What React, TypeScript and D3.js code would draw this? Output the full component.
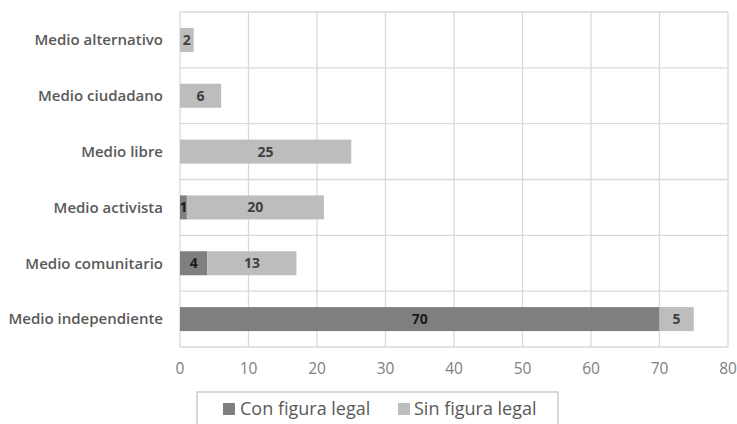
import React from "react";
import * as d3 from "d3";

const categories = ["Medio alternativo", "Medio ciudadano", "Medio libre", "Medio activista", "Medio comunitario", "Medio independiente"];
const conFigura = [0, 0, 0, 1, 4, 70];
const sinFigura = [2, 6, 25, 20, 13, 5];
const seriesNames = ["Con figura legal", "Sin figura legal"];
const xTicks = [0, 10, 20, 30, 40, 50, 60, 70, 80];

const W = 737, H = 424;
const left = 180, right = 728, top = 12, bottom = 347;
const dark = "#7f7f7f", light = "#bdbdbd";
const font = "'Open Sans', sans-serif";

export default function App() {
  const x = d3.scaleLinear().domain([0, 80]).range([left, right]);
  const y = d3.scaleBand<string>().domain(categories).range([top, bottom]).paddingInner(0.57).paddingOuter(0.285);
  const bands = categories.map((_, i) => top + (i * (bottom - top)) / categories.length);
  return (
    <svg width={W} height={H} style={{ position: "absolute", left: 0, top: 0, background: "#fff" }}>
      {xTicks.map((t) => (
        <line key={"v" + t} x1={x(t)} x2={x(t)} y1={top} y2={bottom} stroke="#d9d9d9" strokeWidth={1.3} />
      ))}
      {bands.concat([bottom]).map((b, i) => (
        <line key={"h" + i} x1={left} x2={right} y1={b} y2={b} stroke="#d9d9d9" strokeWidth={1.3} />
      ))}
      {categories.map((c, i) => {
        const yy = y(c)!;
        const h = y.bandwidth();
        const cy = yy + h / 2;
        const a = conFigura[i], b = sinFigura[i];
        return (
          <g key={c}>
            {a > 0 && <rect x={x(0)} y={yy} width={x(a) - x(0)} height={h} fill={dark} />}
            <rect x={x(a)} y={yy} width={x(a + b) - x(a)} height={h} fill={light} />
            {a > 0 && (
              <text x={(x(0) + x(a)) / 2} y={cy} dy="0.36em" textAnchor="middle" fontFamily={font} fontSize={14} fontWeight="bold" fill="#1a1a1a">{a}</text>
            )}
            <text x={(x(a) + x(a + b)) / 2} y={cy} dy="0.36em" textAnchor="middle" fontFamily={font} fontSize={14} fontWeight="bold" fill="#404040">{b}</text>
            <text x={163} y={cy} dy="0.36em" textAnchor="end" fontFamily={font} fontSize={15} fontWeight="600" fill="#595959">{c}</text>
          </g>
        );
      })}
      {xTicks.map((t) => (
        <text key={"t" + t} x={x(t)} y={374} textAnchor="middle" fontFamily={font} fontSize={15.5} fill="#7f7f7f">{t}</text>
      ))}
      <rect x={197} y={392} width={361} height={40} fill="#fff" stroke="#bfbfbf" strokeWidth={1.2} />
      <rect x={223} y={403} width={12} height={12} fill={dark} />
      <text x={240} y={409} dy="0.36em" fontFamily={font} fontSize={18} fill="#595959">{seriesNames[0]}</text>
      <rect x={398} y={403} width={12} height={12} fill={light} />
      <text x={414} y={409} dy="0.36em" fontFamily={font} fontSize={18} fill="#595959">{seriesNames[1]}</text>
    </svg>
  );
}
